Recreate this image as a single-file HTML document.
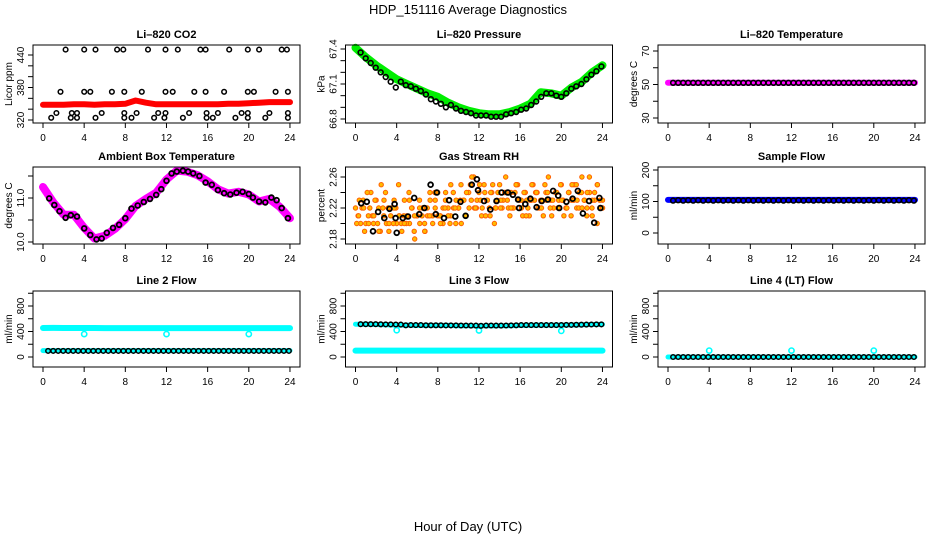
<!DOCTYPE html>
<html><head><meta charset="utf-8"><style>
body{margin:0;background:#fff}
svg{display:block;font-family:"Liberation Sans",sans-serif}
</style></head><body>
<svg id="c" width="936" height="540" viewBox="0 0 936 540" xmlns="http://www.w3.org/2000/svg">
<text x="468" y="14" text-anchor="middle" font-size="13">HDP_151116  Average Diagnostics</text>
<text x="468" y="531" text-anchor="middle" font-size="13">Hour of Day (UTC)</text>
</svg>
<script>
// ---- data ----
const hourTicks=[0,4,8,12,16,20,24];
const co2Red=[348,348,348,349,349,348,349,349,350,356,352,349,349,349,349,349,349,349,350,350,351,352,353,353,353];
const co2BlackH=[2.2,4.0,5.1,7.2,7.8,10.2,11.9,13.1,15.3,15.8,18.1,19.9,21.0,23.2,23.7,1.7,4.0,4.6,6.7,7.9,9.6,11.9,12.6,14.7,15.8,17.6,19.9,20.5,22.6,23.8,1.3,2.8,3.3,5.7,7.9,9.1,11.2,11.9,14.2,15.9,17.0,19.3,19.9,22.0,23.8,0.8,2.7,3.3,5.1,7.9,8.6,10.8,11.8,13.6,15.9,16.5,18.7,19.9,21.6,23.8];
const co2BlackV=[450,450,450,450,450,450,450,450,450,450,450,450,450,450,450,372,372,372,372,372,372,372,372,372,372,372,372,372,372,372,333,333,333,333,333,333,333,333,333,333,333,333,333,333,333,324,324,324,324,324,324,324,324,324,324,324,324,324,324,324];
const presGreen=[67.41,67.33,67.26,67.2,67.14,67.1,67.06,67.02,66.99,66.94,66.9,66.87,66.85,66.84,66.84,66.86,66.89,66.93,67.03,67.02,67.0,67.07,67.12,67.2,67.26];
const presBlack=[67.37,67.32,67.28,67.24,67.2,67.16,67.12,67.07,67.12,67.09,67.08,67.06,67.04,67.01,66.97,66.95,66.93,66.9,66.92,66.89,66.87,66.86,66.85,66.83,66.83,66.83,66.82,66.82,66.82,66.84,66.85,66.86,66.88,66.89,66.92,66.95,66.99,67.02,67.02,67.0,66.99,67.02,67.06,67.08,67.1,67.14,67.18,67.21,67.25];
const tempMag=[51,51,51,51,51,51,51,51,51,51,51,51,51,51,51,51,51,51,51,51,51,51,51,51,51];
const tempBlack=[51,51,51,51,51,51,51,51,51,51,51,51,51,51,51,51,51,51,51,51,51,51,51,51,51,51,51,51,51,51,51,51,51,51,51,51,51,51,51,51,51,51,51,51,51,51,51,51,51];
const ambH=[0.6,1.1,1.6,2.2,2.7,3.3,4.0,4.6,5.2,5.7,6.2,6.8,7.4,8.0,8.6,9.2,9.8,10.4,11.0,11.5,12.0,12.5,13.0,13.6,14.1,14.6,15.2,15.8,16.4,17.0,17.6,18.2,18.8,19.4,20.0,20.4,21.0,21.6,22.2,22.7,23.2,23.8];
const ambV=[10.99,10.84,10.70,10.55,10.61,10.58,10.31,10.16,10.06,10.08,10.21,10.32,10.39,10.54,10.76,10.83,10.91,10.98,11.07,11.2,11.39,11.56,11.6,11.62,11.6,11.56,11.5,11.35,11.3,11.18,11.11,11.08,11.12,11.14,11.09,11.01,10.92,10.9,11.01,10.95,10.77,10.54];
const ambMag=[11.25,10.9,10.62,10.62,10.32,10.08,10.14,10.3,10.52,10.82,10.98,11.12,11.42,11.62,11.6,11.52,11.38,11.2,11.1,11.14,11.08,10.92,10.98,10.8,10.54];
const rhA=[2.22,2.21,2.2,2.23,2.2,2.21,2.24,2.2,2.23,2.22,2.25,2.21,2.2,2.19,2.22,2.23,2.2,2.21,2.19,2.23,2.21,2.2,2.22,2.18,2.21,2.2,2.22,2.19,2.21,2.23,2.2,2.22,2.24,2.21,2.2,2.23,2.22,2.21,2.24,2.2,2.22,2.25,2.23,2.21,2.24,2.23,2.26,2.22,2.24,2.21,2.25,2.23,2.22,2.24,2.2,2.23,2.25,2.22,2.24,2.23,2.21,2.22,2.24,2.25,2.23,2.21,2.24,2.22,2.23,2.25,2.24,2.22,2.23,2.21,2.24,2.26,2.23,2.22,2.24,2.23,2.25,2.21,2.22,2.24,2.23,2.25,2.22,2.24,2.26,2.23,2.22,2.24,2.21,2.23,2.25,2.22,2.23];
const rhB=[2.2,2.23,2.22,2.19,2.24,2.22,2.21,2.23,2.2,2.19,2.22,2.24,2.22,2.21,2.2,2.22,2.25,2.2,2.21,2.2,2.24,2.22,2.19,2.21,2.23,2.21,2.19,2.22,2.24,2.21,2.23,2.21,2.2,2.22,2.24,2.21,2.25,2.22,2.23,2.22,2.2,2.23,2.24,2.22,2.26,2.22,2.23,2.25,2.22,2.24,2.23,2.21,2.25,2.22,2.24,2.22,2.23,2.26,2.22,2.24,2.22,2.25,2.23,2.22,2.24,2.23,2.21,2.25,2.23,2.24,2.22,2.23,2.25,2.24,2.22,2.23,2.24,2.22,2.25,2.23,2.22,2.24,2.21,2.23,2.25,2.22,2.24,2.23,2.21,2.26,2.22,2.24,2.2,2.23,2.22];
const rhC=[2.21,2.22,2.2,2.21,2.19,2.23,2.2,2.22,2.21,2.2,2.23,2.21,2.22,2.2,2.21,2.24,2.21,2.22,2.2,2.22,2.23,2.21,2.25,2.22,2.23,2.21,2.24,2.22,2.23,2.24,2.22,2.25,2.23,2.21,2.23,2.24,2.22,2.23,2.21,2.24,2.23,2.22,2.25,2.23,2.22,2.24,2.23,2.25,2.22];
const rhBlackH=[0.55,1.1,1.7,2.2,2.8,3.3,3.8,3.9,4.0,4.6,5.1,5.7,6.2,6.7,7.3,7.8,7.9,8.6,9.1,9.7,10.2,10.7,11.3,11.8,11.9,12.5,13.1,13.7,14.2,14.8,15.3,15.8,15.9,16.5,17.0,17.6,18.1,18.7,19.2,19.7,19.8,20.5,21.1,21.6,22.1,22.7,23.2,23.7,23.8];
const rhBlackV=[2.226,2.228,2.19,2.215,2.207,2.219,2.225,2.207,2.188,2.207,2.209,2.233,2.212,2.22,2.25,2.212,2.24,2.207,2.23,2.209,2.228,2.21,2.25,2.257,2.243,2.229,2.218,2.229,2.24,2.24,2.237,2.231,2.22,2.225,2.232,2.221,2.229,2.231,2.242,2.236,2.22,2.228,2.232,2.242,2.213,2.229,2.201,2.233,2.22];
const sampBlue=[105,105,105,105,105,105,105,105,105,105,105,105,105,105,105,105,105,105,105,105,105,105,105,105,105];
const sampBlack=[103,104,103,104,103,104,103,104,103,104,103,104,103,104,103,104,103,104,103,104,103,104,103,104,103,104,103,104,103,104,103,104,103,104,103,104,103,104,103,104,103,104,103,104,103,104,103,104,103];
const l2Cyan=[455,456,455,455,455,455,454,454,454,454,454,453,453,453,453,453,453,453,453,453,453,453,453,454,454];
const l2CyanLow=[100,100,100,100,100,100,100,100,100,100,100,100,100,100,100,100,100,100,100,100,100,100,100,100,100];
const l2Black=[95,95,95,95,95,95,95,95,95,95,95,95,95,95,95,95,95,95,95,95,95,95,95,95,95,95,95,95,95,95,95,95,95,95,95,95,95,95,95,95,95,95,95,95,95,95,95,95,95];
const outH=[4,12,20];
const l2Out=[360,360,360];
const l3Cyan=[515,515,510,505,500,500,495,495,495,495,490,490,488,488,490,490,495,498,500,500,500,502,505,510,512];
const l3CyanLow=[100,100,100,100,100,100,100,100,100,100,100,100,100,100,100,100,100,100,100,100,100,100,100,100,100];
const l3Black=[515,515,514,514,513,512,512,510,508,498,500,500,500,498,498,497,497,496,496,495,494,494,493,492,490,492,494,492,492,494,495,497,500,500,500,500,500,500,500,500,502,503,504,505,507,508,510,511,512];
const l3Out=[420,415,410];
const l4Cyan=[0,0,0,0,0,0,0,0,0,0,0,0,0,0,0,0,0,0,0,0,0,0,0,0,0];
const l4Black=[0,0,0,0,0,0,0,0,0,0,0,0,0,0,0,0,0,0,0,0,0,0,0,0,0,0,0,0,0,0,0,0,0,0,0,0,0,0,0,0,0,0,0,0,0,0,0,0,0];
const l4Out=[100,100,100];

// ---- layout ----
const NS="http://www.w3.org/2000/svg";
const svg=document.getElementById('c');
const rows=[{top:45,bot:123},{top:167,bot:244},{top:291,bot:367}];
function mk(tag,attrs,parent){const e=document.createElementNS(NS,tag);for(const k in attrs)e.setAttribute(k,attrs[k]);(parent||svg).appendChild(e);return e;}
function panel(cfg){
  const g=mk('g',{});
  
  
  const x0=43+cfg.col*312.5, pxh=10.29;
  const r=rows[cfg.row];
  const X=h=>x0+h*pxh;
  const Y=v=>cfg.py0+(v-cfg.v0)*(cfg.py1-cfg.py0)/(cfg.v1-cfg.v0);
  const bl=x0-10, br=x0+257;
  const t=mk('text',{x:(bl+br)/2,y:r.top-7,'text-anchor':'middle','font-size':'11','font-weight':'bold'},g);
  t.textContent=cfg.title;
  
  
  const dg=mk('g',{},g);
  
  
  cfg.draw(dg,X,Y);
  mk('rect',{x:bl,y:r.top,width:br-bl,height:r.bot-r.top,fill:'none',stroke:'#000','stroke-width':1},g);
  const xa=mk('g',{},g);
  
  
  mk('line',{x1:X(hourTicks[0]),x2:X(hourTicks[hourTicks.length-1]),y1:r.bot,y2:r.bot,stroke:'#000'},xa);
  hourTicks.forEach(h=>{mk('line',{x1:X(h),x2:X(h),y1:r.bot,y2:r.bot+5,stroke:'#000'},xa);
    const tl=mk('text',{x:X(h),y:r.bot+18,'text-anchor':'middle','font-size':'10'},xa);tl.textContent=h;});
  const ya=mk('g',{},g);
  
  
  mk('line',{x1:bl,x2:bl,y1:Y(cfg.ticks[0]),y2:Y(cfg.ticks[cfg.ticks.length-1]),stroke:'#000'},ya);
  cfg.ticks.forEach(v=>{mk('line',{x1:bl-5,x2:bl,y1:Y(v),y2:Y(v),stroke:'#000'},ya);});
  cfg.labels.forEach(v=>{const tl=mk('text',{x:0,y:0,'text-anchor':'middle','font-size':'10',transform:`translate(${bl-9},${Y(v)}) rotate(-90)`},ya);tl.textContent=cfg.fmt?cfg.fmt(v):v;});
  const yt=mk('text',{x:0,y:0,'text-anchor':'middle','font-size':'10',transform:`translate(${bl-21},${(r.top+r.bot)/2}) rotate(-90)`},g);
  yt.textContent=cfg.ylab;
  
  
}
function band(g,X,Y,arr,color,w){
  const p=arr.map((v,i)=>`${i?'L':'M'}${X(i*24/(arr.length-1)).toFixed(1)},${Y(v).toFixed(1)}`).join('');
  const e=mk('path',{d:p,fill:'none',stroke:color,'stroke-width':w,'stroke-linejoin':'round','stroke-linecap':'round'},g);
  
  
}
function pts(g,X,Y,hs,vs,color,rad,sw,fill){
  vs.forEach((v,i)=>{const h=hs?hs[i]:0.5+i*23.4/(vs.length-1);
    const c=mk('circle',{cx:X(h).toFixed(1),cy:Y(v).toFixed(1),r:rad||2.4,fill:fill||'none',stroke:color,'stroke-width':sw||1.6},g);
    
    });
}
function gridH(arr,off){return arr.map((v,i)=>off+i*(24-off)/(arr.length-1));}

panel({name:'panel-li820-co2',col:0,row:0,title:'Li\u2013820 CO2',ylab:'Licor ppm',v0:320,py0:120,v1:440,py1:55,ticks:[320,340,360,380,400,420,440],labels:[320,380,440],
  draw:(g,X,Y)=>{band(g,X,Y,co2Red,'#ff0000',6);pts(g,X,Y,co2BlackH,co2BlackV,'#000',2.3,1.5);}});
panel({name:'panel-li820-pressure',col:1,row:0,title:'Li\u2013820 Pressure',ylab:'kPa',v0:66.8,py0:119,v1:67.4,py1:49,ticks:[66.8,66.9,67.0,67.1,67.2,67.3,67.4],labels:[66.8,67.1,67.4],fmt:v=>v.toFixed(1),
  draw:(g,X,Y)=>{band(g,X,Y,presGreen,'#00ee00',8);pts(g,X,Y,null,presBlack,'#000',2.4,1.6);}});
panel({name:'panel-li820-temperature',col:2,row:0,title:'Li\u2013820 Temperature',ylab:'degrees C',v0:30,py0:118,v1:70,py1:51,ticks:[30,40,50,60,70],labels:[30,50,70],
  draw:(g,X,Y)=>{band(g,X,Y,tempMag,'#ff00ff',6);pts(g,X,Y,null,tempBlack,'#000',2.4,1.6);}});
panel({name:'panel-ambient-box-temperature',col:0,row:1,title:'Ambient Box Temperature',ylab:'degrees C',v0:10,py0:242,v1:11,py1:198,ticks:[10,10.5,11,11.5],labels:[10,11],fmt:v=>v.toFixed(1),
  draw:(g,X,Y)=>{band(g,X,Y,ambMag,'#ff00ff',8);pts(g,X,Y,ambH,ambV,'#000',2.4,1.8);}});
panel({name:'panel-gas-stream-rh',col:1,row:1,title:'Gas Stream RH',ylab:'percent',v0:2.18,py0:239,v1:2.26,py1:177,ticks:[2.18,2.2,2.22,2.24,2.26],labels:[2.18,2.22,2.26],fmt:v=>v.toFixed(2),
  draw:(g,X,Y)=>{pts(g,X,Y,gridH(rhA,0),rhA,'#ff6000',2.2,1,'#ffbb00');pts(g,X,Y,gridH(rhB,0.12),rhB,'#ff6000',2.2,1,'#ffbb00');pts(g,X,Y,gridH(rhC,0.3),rhC,'#ff6000',2.2,1,'#ffbb00');pts(g,X,Y,rhBlackH,rhBlackV,'#000',2.4,1.8);}});
panel({name:'panel-sample-flow',col:2,row:1,title:'Sample Flow',ylab:'ml/min',v0:0,py0:233,v1:200,py1:170,ticks:[0,50,100,150,200],labels:[0,100,200],
  draw:(g,X,Y)=>{band(g,X,Y,sampBlue,'#0000ff',6);pts(g,X,Y,null,sampBlack,'#000',2.4,1.6);}});
panel({name:'panel-line2-flow',col:0,row:2,title:'Line 2 Flow',ylab:'ml/min',v0:0,py0:357,v1:800,py1:306,ticks:[0,200,400,600,800,1000],labels:[0,400,800],
  draw:(g,X,Y)=>{band(g,X,Y,l2Cyan,'#00ffff',6);band(g,X,Y,l2CyanLow,'#00ffff',5);pts(g,X,Y,outH,l2Out,'#00ffff',2.6,1.6);pts(g,X,Y,null,l2Black,'#000',2.3,1.5);}});
panel({name:'panel-line3-flow',col:1,row:2,title:'Line 3 Flow',ylab:'ml/min',v0:0,py0:357,v1:800,py1:306,ticks:[0,200,400,600,800,1000],labels:[0,400,800],
  draw:(g,X,Y)=>{band(g,X,Y,l3Cyan,'#00ffff',5);band(g,X,Y,l3CyanLow,'#00ffff',6);pts(g,X,Y,outH,l3Out,'#00ffff',2.6,1.6);pts(g,X,Y,null,l3Black,'#000',2.3,1.5);}});
panel({name:'panel-line4-flow',col:2,row:2,title:'Line 4 (LT) Flow',ylab:'ml/min',v0:0,py0:357,v1:800,py1:306,ticks:[0,200,400,600,800,1000],labels:[0,400,800],
  draw:(g,X,Y)=>{band(g,X,Y,l4Cyan,'#00ffff',5);pts(g,X,Y,outH,l4Out,'#00ffff',2.6,1.6);pts(g,X,Y,null,l4Black,'#000',2.3,1.5);}});
</script>
</body></html>
